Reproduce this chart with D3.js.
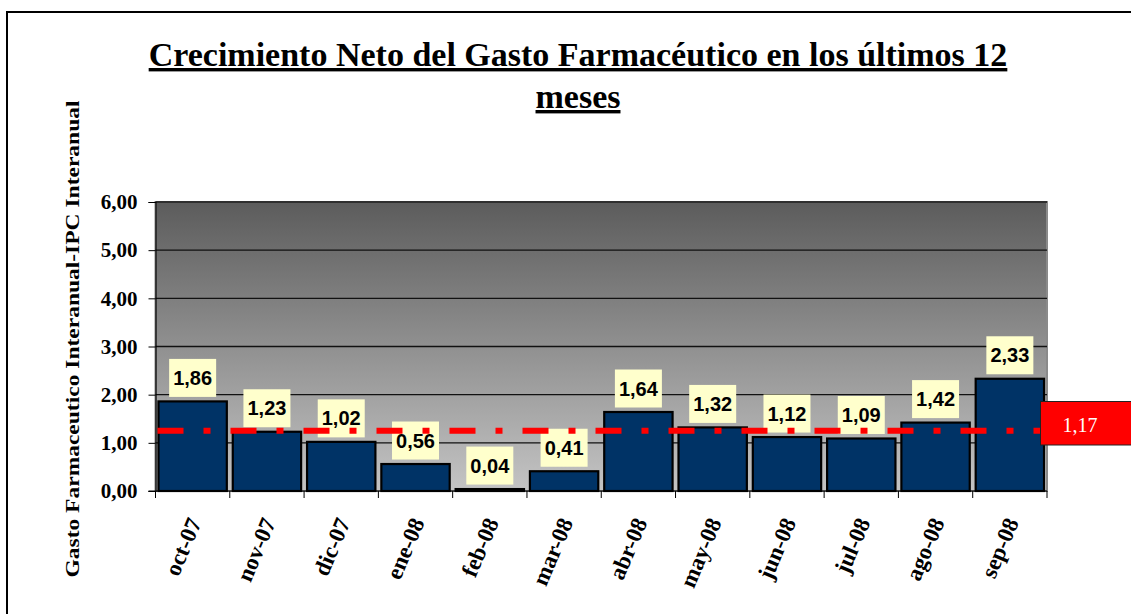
<!DOCTYPE html>
<html><head><meta charset="utf-8">
<script src="https://cdn.jsdelivr.net/npm/d3@7"></script>
<style>body{margin:0;background:#fff}svg{display:block}</style>
</head><body>
<svg id="c" width="1131" height="614"></svg>
<script>
const categories = ["oct-07","nov-07","dic-07","ene-08","feb-08","mar-08","abr-08","may-08","jun-08","jul-08","ago-08","sep-08"];
const values = [1.86,1.23,1.02,0.56,0.04,0.41,1.64,1.32,1.12,1.09,1.42,2.33];
const yTicks = [0,1,2,3,4,5,6];
const averageLabel = "1,17";
const averageLinePos = [1.25];
const titleLines = ["Crecimiento Neto del Gasto Farmacéutico en los últimos 12","meses"];
const yTitle = "Gasto Farmaceutico Interanual-IPC Interanual";

const SERIF = "'Liberation Serif','Times New Roman',serif";
const svg = d3.select("#c");
const fmt = v => d3.format(".2f")(v).replace(".", ",");
const L = 155.5, R = 1047, T = 202, B = 491;

// outer frame
svg.append("rect").attr("x",7).attr("y",12).attr("width",1140).attr("height",620)
  .attr("fill","none").attr("stroke","#000").attr("stroke-width",2);

// title
const tg = svg.append("g").attr("font-family",SERIF)
  .attr("font-weight","bold").attr("font-size",34).attr("text-anchor","middle").attr("fill","#000");
tg.selectAll("text").data(titleLines).join("text")
  .attr("x",578).attr("y",(d,i)=>66+i*42)
  .attr("text-decoration","underline").text(d=>d);

const x = d3.scaleBand().domain(categories).range([L,R]).paddingInner(0.08).paddingOuter(0.04);
const y = d3.scaleLinear().domain([0,6]).range([B,T]);

// background gradient
const defs = svg.append("defs");
const grad = defs.append("linearGradient").attr("id","bg").attr("x1",0).attr("y1",0).attr("x2",0).attr("y2",1);
grad.append("stop").attr("offset","0%").attr("stop-color","#5c5c5c");
grad.append("stop").attr("offset","100%").attr("stop-color","#c4c4c4");
svg.append("rect").attr("x",L).attr("y",T).attr("width",R-L).attr("height",B-T)
  .attr("fill","url(#bg)").attr("stroke","#8a8a8a").attr("stroke-width",2);

// grid lines
svg.append("g").selectAll("line").data(yTicks.filter(d=>d>0)).join("line")
  .attr("x1",L).attr("x2",R).attr("y1",d=>y(d)).attr("y2",d=>y(d))
  .attr("stroke","#111").attr("stroke-width",1.3);

// y axis
const ya = svg.append("g").attr("transform",`translate(${L},0)`)
  .call(d3.axisLeft(y).tickValues(yTicks).tickFormat(fmt).tickSize(7).tickPadding(11));
ya.select(".domain").attr("stroke","#000").attr("stroke-width",1.2);
ya.selectAll(".tick line").attr("stroke","#000");
ya.selectAll("text").attr("font-family",SERIF)
  .attr("font-weight","bold").attr("font-size",21).attr("fill","#000");

// x axis
const xa = svg.append("g").attr("transform",`translate(0,${B})`)
  .call(d3.axisBottom(x).tickSize(0).tickFormat(d=>d));
xa.select(".domain").remove();
svg.append("line").attr("x1",L-7).attr("x2",R).attr("y1",B).attr("y2",B).attr("stroke","#000").attr("stroke-width",1.2);
const bounds = categories.map((c,i)=> i===0 ? L : x(c) - x.step()*x.paddingInner()/2).concat([R]);
svg.append("g").selectAll("line").data(bounds).join("line")
  .attr("x1",d=>d).attr("x2",d=>d).attr("y1",B).attr("y2",B+7).attr("stroke","#000");
xa.selectAll("text")
  .attr("font-family",SERIF)
  .attr("font-weight","bold").attr("font-size",23).attr("fill","#000")
  .attr("text-anchor","end").attr("dy","0.35em")
  .attr("transform","translate(2,28) rotate(-67)")
  .attr("y",0).attr("x",0);

// bars
svg.append("g").selectAll("rect").data(values).join("rect")
  .attr("x",(d,i)=>x(categories[i])).attr("width",x.bandwidth())
  .attr("y",d=>y(d)).attr("height",d=>B-y(d))
  .attr("fill","#003366").attr("stroke","#000").attr("stroke-width",2.2);

// value labels
const lg = svg.append("g");
values.forEach((v,i)=>{
  const cx = x(categories[i]) + x.bandwidth()/2;
  const by = y(v) - 4.5;
  lg.append("rect").attr("x",cx-23.5).attr("y",by-38).attr("width",47).attr("height",38).attr("fill","#ffffcc");
  lg.append("text").attr("x",cx).attr("y",by-12).attr("text-anchor","middle")
    .attr("font-family","'Liberation Sans',Arial,sans-serif").attr("font-weight","bold")
    .attr("font-size",20).attr("fill","#000").text(fmt(v));
});

// average line
svg.append("g").selectAll("line").data(averageLinePos).join("line")
  .attr("x1",L+2).attr("x2",1040).attr("y1",d=>y(d)).attr("y2",d=>y(d))
  .attr("stroke","#ff0000").attr("stroke-width",6)
  .attr("stroke-dasharray","26 20 7 20");

// average label box
svg.append("rect").attr("x",1040.5).attr("y",401.5).attr("width",100).attr("height",43.5)
  .attr("fill","#ff0000").attr("stroke","#222").attr("stroke-width",1);
svg.append("text").attr("x",1080).attr("y",432).attr("text-anchor","middle")
  .attr("font-family",SERIF).attr("font-size",20)
  .attr("fill","#fff").text(averageLabel);

// y title
svg.append("text").attr("transform","translate(79,339) rotate(-90)").attr("text-anchor","middle")
  .attr("font-family",SERIF).attr("font-weight","bold")
  .attr("font-size",19).attr("textLength",477).attr("lengthAdjust","spacingAndGlyphs")
  .attr("fill","#000").text(yTitle);
</script>
</body></html>
